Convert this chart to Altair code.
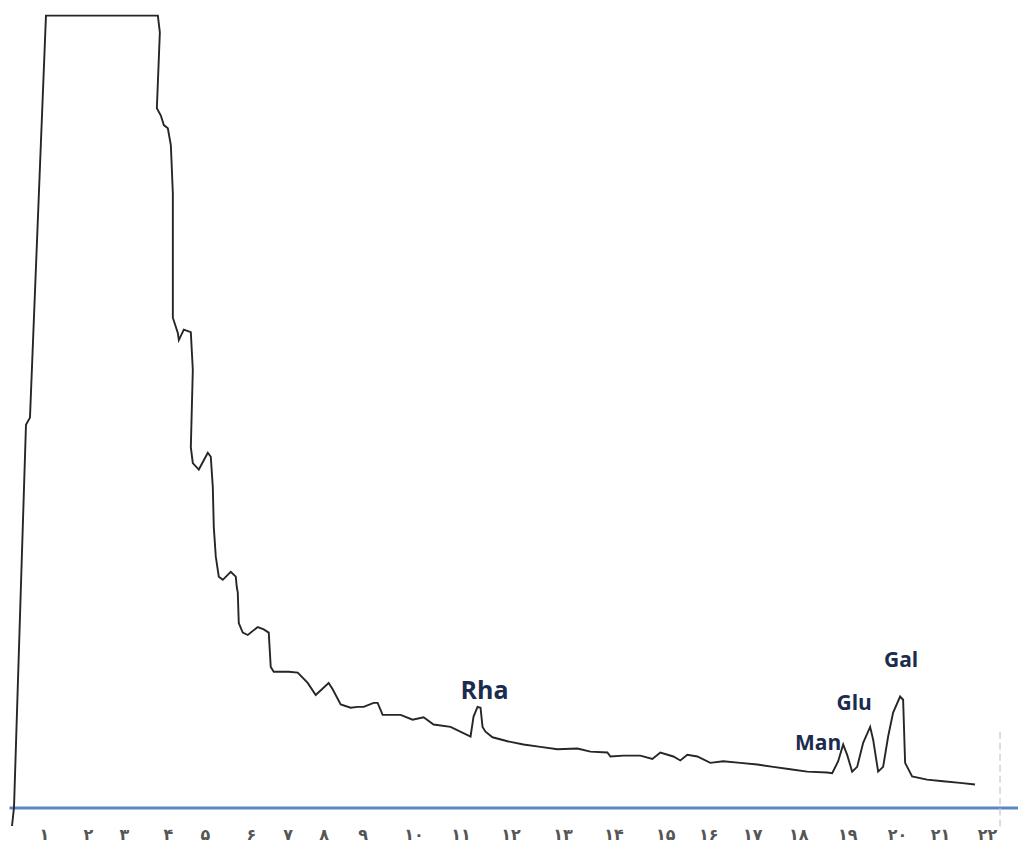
import altair as alt
import pandas as pd

# Chromatogram trace (x: scan units, y: detector response)
trace_x = [0.3, 0.5, 1.7, 2.1, 3.7, 14.9, 15.1, 14.8, 15.2, 15.5, 15.9, 16.2, 16.4, 16.4, 16.4,
           16.9, 17.0, 17.5, 18.2, 18.4, 18.2, 18.4, 19.0, 19.9, 20.2, 20.4, 20.5, 20.7, 21.0,
           21.4, 22.2, 22.7, 22.8, 22.9, 23.0, 23.4, 23.9, 24.9, 25.5, 26.0, 26.2, 26.5, 28.0,
           28.9, 29.9, 30.7, 32.0, 32.4, 33.2, 34.2, 34.9, 35.5, 36.5, 36.9, 37.4, 39.2, 40.4,
           41.5, 42.5, 44.2, 46.2, 46.5, 46.9, 47.2, 47.4, 47.7, 48.4, 49.9, 51.5, 53.2, 54.9,
           56.9, 58.2, 59.9, 60.2, 61.5, 63.2, 64.4, 65.2, 66.5, 67.2, 67.9, 68.9, 70.2, 71.5,
           73.2, 74.9, 76.5, 78.2, 79.9, 81.9, 82.4, 83.0, 83.5, 83.9, 84.4, 84.9, 85.5, 86.2,
           86.5, 87.0, 87.5, 88.0, 88.5, 89.2, 89.5, 89.7, 90.4, 91.9, 93.5, 95.2, 96.7]
trace_y = [-2.3, 0.0, 47.9, 48.8, 99.1, 99.1, 97.0, 87.5, 86.6, 85.4, 85.0, 82.9, 76.9, 68.9, 61.3,
           59.4, 58.5, 59.8, 59.5, 54.8, 45.1, 43.1, 42.3, 44.4, 43.9, 40.1, 35.1, 31.4, 28.9,
           28.5, 29.5, 28.9, 27.6, 26.9, 23.1, 21.9, 21.6, 22.6, 22.3, 21.9, 17.6, 17.0, 17.0,
           16.9, 15.6, 14.1, 15.6, 14.8, 12.9, 12.5, 12.6, 12.6, 13.1, 13.1, 11.6, 11.6, 11.0,
           11.3, 10.4, 10.1, 8.9, 11.4, 12.6, 12.5, 10.1, 9.5, 8.8, 8.3, 7.9, 7.6, 7.3,
           7.4, 7.0, 6.9, 6.4, 6.5, 6.5, 6.1, 6.9, 6.4, 5.9, 6.6, 6.4, 5.6, 5.8,
           5.6, 5.4, 5.1, 4.8, 4.5, 4.4, 4.3, 5.8, 7.9, 6.6, 4.5, 5.1, 8.1, 10.1,
           8.5, 4.5, 5.1, 8.9, 11.9, 13.9, 13.5, 5.6, 3.9, 3.5, 3.3, 3.1, 2.9]

# Peak labels
big_names = ["Rha"]
big_x = [47.6]
big_y = [14.6]
small_names = ["Man", "Glu", "Gal"]
small_x = [81.0, 84.6, 89.3]
small_y = [7.9, 13.0, 18.4]

# Axis tick positions and Persian labels
tick_values = [3.5, 7.9, 11.5, 15.9, 19.6, 24.2, 27.9, 31.5, 35.4, 40.5, 45.2,
               50.2, 55.4, 60.5, 65.7, 70.0, 74.4, 79.0, 83.9, 88.9, 93.2, 97.9]
tick_labels = ["۱", "۲", "۳", "۴", "۵", "۶", "۷", "۸", "۹", "۱۰", "۱۱",
               "۱۲", "۱۳", "۱۴", "۱۵", "۱۶", "۱۷", "۱۸", "۱۹", "۲۰", "۲۱", "۲۲"]

# faint scan artifact at the right edge
artifact_x = [99.2]
artifact_y = [9.5]
artifact_y2 = [-2.5]

trace = pd.DataFrame({"t": trace_x, "r": trace_y, "o": list(range(len(trace_x)))})
big = pd.DataFrame({"name": big_names, "t": big_x, "r": big_y})
small = pd.DataFrame({"name": small_names, "t": small_x, "r": small_y})
art = pd.DataFrame({"t": artifact_x, "r": artifact_y, "r2": artifact_y2})

label_expr = ("[" + ",".join("'" + l + "'" for l in tick_labels) + "][indexof(["
              + ",".join(str(v) for v in tick_values) + "], datum.value)]")

xscale = alt.Scale(domain=[0, 101], nice=False, zero=False)
yscale = alt.Scale(domain=[0, 100], nice=False, zero=False)

xaxis = alt.Axis(values=tick_values, labelExpr=label_expr, title=None, grid=False,
                 ticks=False, domainColor="#5b87c4", domainWidth=3,
                 labelPadding=19, labelFontSize=16, labelFont="DejaVu Sans",
                 labelFontWeight="bold", labelColor="#555555")

X = alt.X("t:Q", scale=xscale, axis=xaxis)
Y = alt.Y("r:Q", scale=yscale, axis=None)

artifact = alt.Chart(art).mark_rule(color="#d2d2d2", strokeWidth=1.5, strokeDash=[7, 4]).encode(
    x=X, y=Y, y2="r2:Q",
)

line = alt.Chart(trace).mark_line(color="#262626", strokeWidth=1.9).encode(
    x=X, y=Y, order="o:Q",
)

text_big = alt.Chart(big).mark_text(font="Open Sans", fontWeight="bold", color="#1b2c4e",
                                     fontSize=25).encode(x=X, y=Y, text="name:N")

text_small = alt.Chart(small).mark_text(font="Open Sans", fontWeight="bold", color="#1b2c4e",
                                         fontSize=21).encode(x=X, y=Y, text="name:N")

chart = alt.layer(artifact, line, text_big, text_small).properties(
    width=1010, height=800,
    padding=0,
    background="white",
).configure_view(strokeWidth=0)

chart.save("out.html", embed_options={"renderer": "svg", "actions": False})
